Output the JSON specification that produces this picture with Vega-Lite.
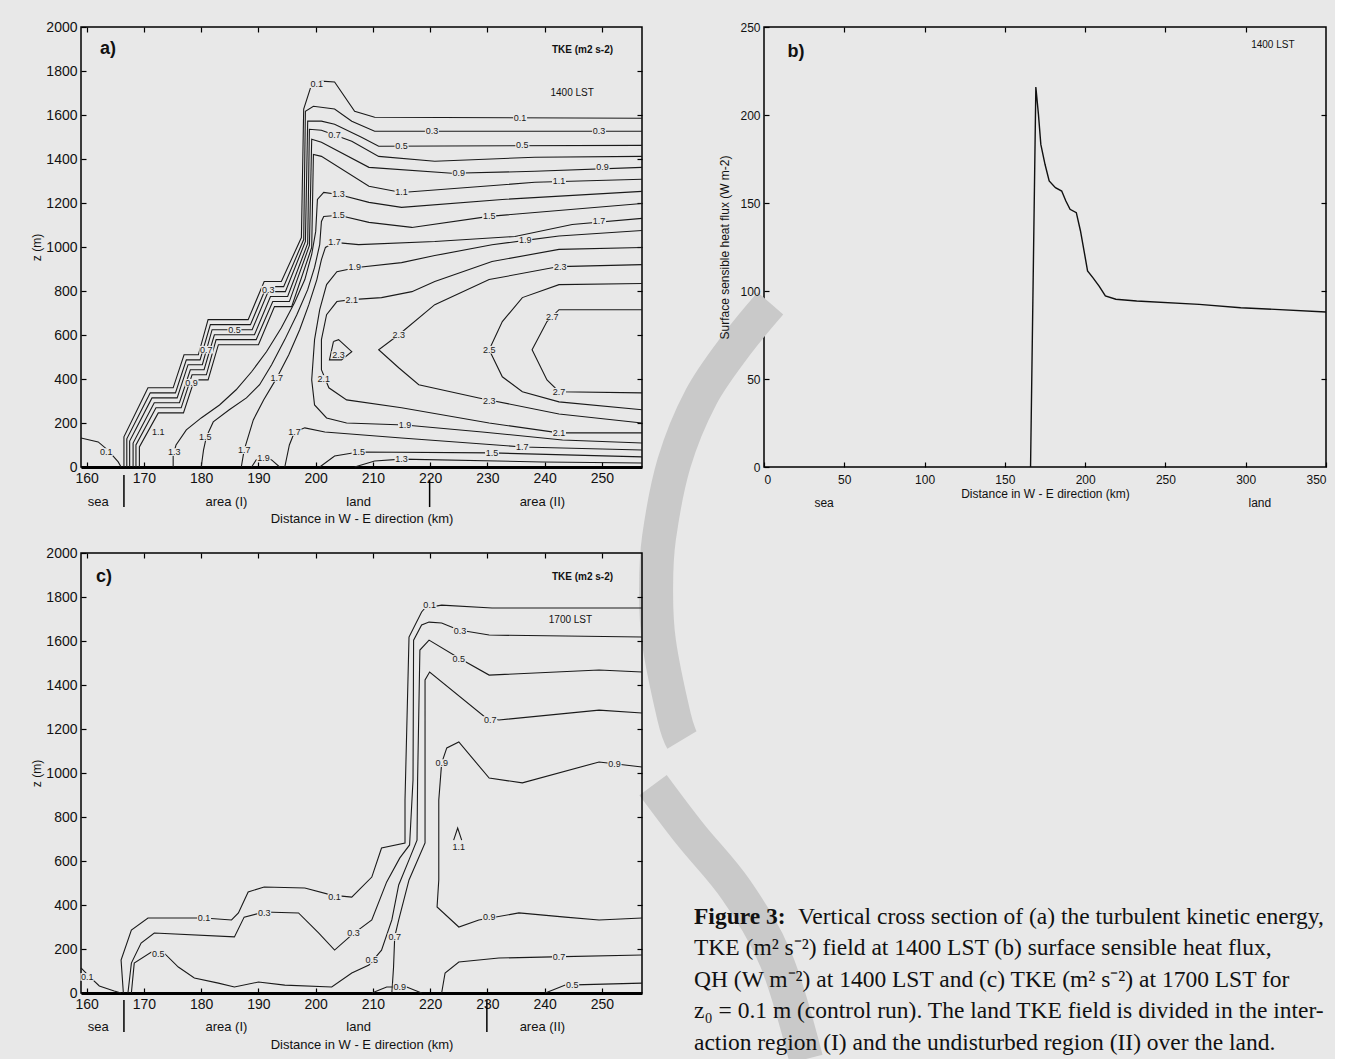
{
"$schema": "https://vega.github.io/schema/vega-lite/v6.json",
"background": "#e8e8e8",
"padding": {"left": 30, "top": 19, "right": 5, "bottom": 0},
"config": {
 "view": {"stroke": "#000", "strokeWidth": 1.5},
 "font": "Liberation Sans",
 "axis": {"grid": false, "domain": false, "ticks": true, "tickColor": "#000", "tickSize": -5, "tickWidth": 1.2, "labelColor": "#111", "labelFont": "Liberation Sans", "titleFont": "Liberation Sans", "titleColor": "#111", "titleFontWeight": "normal", "labelFontSize": 14, "titleFontSize": 13, "labelPadding": 9}
},
"datasets": {
 "la": [
  {"i":"s0","k":0,"x":166.5,"z":0},{"i":"s0","k":1,"x":166.5,"z":137},{"i":"s0","k":2,"x":170.7,"z":360},{"i":"s0","k":3,"x":175.1,"z":360},{"i":"s0","k":4,"x":177.0,"z":510},{"i":"s0","k":5,"x":179.5,"z":510},{"i":"s0","k":6,"x":181.2,"z":670},{"i":"s0","k":7,"x":188.2,"z":670},{"i":"s0","k":8,"x":191.0,"z":843},{"i":"s0","k":9,"x":194.0,"z":843},{"i":"s0","k":10,"x":197.5,"z":1043},{"i":"s0","k":11,"x":197.9,"z":1627},{"i":"s0","k":12,"x":199.3,"z":1740},{"i":"s0","k":13,"x":201.0,"z":1754},{"i":"s0","k":14,"x":203.3,"z":1750},{"i":"s0","k":15,"x":206.8,"z":1617},{"i":"s0","k":16,"x":210.3,"z":1590},{"i":"s0","k":17,"x":257,"z":1585},
  {"i":"s1","k":0,"x":167.0,"z":0},{"i":"s1","k":1,"x":167.0,"z":128},{"i":"s1","k":2,"x":171.1,"z":337},{"i":"s1","k":3,"x":175.5,"z":337},{"i":"s1","k":4,"x":177.4,"z":487},{"i":"s1","k":5,"x":179.8,"z":487},{"i":"s1","k":6,"x":181.6,"z":647},{"i":"s1","k":7,"x":188.6,"z":647},{"i":"s1","k":8,"x":191.4,"z":820},{"i":"s1","k":9,"x":194.4,"z":820},{"i":"s1","k":10,"x":197.9,"z":1034},{"i":"s1","k":11,"x":198.2,"z":1617},{"i":"s1","k":12,"x":199.6,"z":1640},{"i":"s1","k":13,"x":203.3,"z":1627},{"i":"s1","k":14,"x":206.3,"z":1572},{"i":"s1","k":15,"x":210.3,"z":1526},{"i":"s1","k":16,"x":257,"z":1526},
  {"i":"s2","k":0,"x":167.5,"z":0},{"i":"s2","k":1,"x":167.5,"z":118},{"i":"s2","k":2,"x":171.4,"z":314},{"i":"s2","k":3,"x":175.8,"z":314},{"i":"s2","k":4,"x":177.7,"z":465},{"i":"s2","k":5,"x":180.2,"z":465},{"i":"s2","k":6,"x":181.9,"z":624},{"i":"s2","k":7,"x":188.9,"z":624},{"i":"s2","k":8,"x":191.7,"z":797},{"i":"s2","k":9,"x":194.7,"z":797},{"i":"s2","k":10,"x":198.2,"z":1025},{"i":"s2","k":11,"x":198.6,"z":1572},{"i":"s2","k":12,"x":201.0,"z":1572},{"i":"s2","k":13,"x":203.3,"z":1558},{"i":"s2","k":14,"x":208.0,"z":1499},{"i":"s2","k":15,"x":211.0,"z":1458},{"i":"s2","k":16,"x":257,"z":1462},
  {"i":"s3","k":0,"x":168.1,"z":0},{"i":"s3","k":1,"x":168.1,"z":109},{"i":"s3","k":2,"x":171.8,"z":292},{"i":"s3","k":3,"x":176.2,"z":292},{"i":"s3","k":4,"x":178.1,"z":442},{"i":"s3","k":5,"x":180.5,"z":442},{"i":"s3","k":6,"x":182.3,"z":601},{"i":"s3","k":7,"x":189.3,"z":601},{"i":"s3","k":8,"x":192.1,"z":775},{"i":"s3","k":9,"x":195.1,"z":775},{"i":"s3","k":10,"x":198.6,"z":1016},{"i":"s3","k":11,"x":198.9,"z":1535},{"i":"s3","k":12,"x":201.0,"z":1531},{"i":"s3","k":13,"x":206.3,"z":1481},{"i":"s3","k":14,"x":211.0,"z":1412},{"i":"s3","k":15,"x":220.8,"z":1390},{"i":"s3","k":16,"x":238.3,"z":1408},{"i":"s3","k":17,"x":257,"z":1412},
  {"i":"s4","k":0,"x":168.6,"z":0},{"i":"s4","k":1,"x":168.6,"z":100},{"i":"s4","k":2,"x":172.1,"z":269},{"i":"s4","k":3,"x":176.5,"z":269},{"i":"s4","k":4,"x":178.4,"z":419},{"i":"s4","k":5,"x":180.9,"z":419},{"i":"s4","k":6,"x":182.6,"z":579},{"i":"s4","k":7,"x":189.6,"z":579},{"i":"s4","k":8,"x":192.5,"z":752},{"i":"s4","k":9,"x":195.4,"z":752},{"i":"s4","k":10,"x":198.9,"z":1007},{"i":"s4","k":11,"x":199.3,"z":1490},{"i":"s4","k":12,"x":201.0,"z":1476},{"i":"s4","k":13,"x":209.3,"z":1362},{"i":"s4","k":14,"x":223.8,"z":1335},{"i":"s4","k":15,"x":238.3,"z":1344},{"i":"s4","k":16,"x":257,"z":1362},
  {"i":"s5","k":0,"x":169.2,"z":0},{"i":"s5","k":1,"x":169.2,"z":91},{"i":"s5","k":2,"x":172.5,"z":246},{"i":"s5","k":3,"x":176.9,"z":246},{"i":"s5","k":4,"x":178.8,"z":396},{"i":"s5","k":5,"x":181.2,"z":396},{"i":"s5","k":6,"x":183.0,"z":556},{"i":"s5","k":7,"x":190.0,"z":556},{"i":"s5","k":8,"x":192.8,"z":729},{"i":"s5","k":9,"x":195.8,"z":729},{"i":"s5","k":10,"x":199.3,"z":998},{"i":"s5","k":11,"x":199.6,"z":1421},{"i":"s5","k":12,"x":201.0,"z":1412},{"i":"s5","k":13,"x":209.3,"z":1276},{"i":"s5","k":14,"x":215.0,"z":1248},{"i":"s5","k":15,"x":238.3,"z":1294},{"i":"s5","k":16,"x":257,"z":1308},
  {"i":"m1","k":0,"x":175.1,"z":0},{"i":"m1","k":1,"x":175.1,"z":55},{"i":"m1","k":2,"x":175.6,"z":100},{"i":"m1","k":3,"x":177.4,"z":169},{"i":"m1","k":4,"x":180.0,"z":223},{"i":"m1","k":5,"x":183.2,"z":282},{"i":"m1","k":6,"x":186.1,"z":351},{"i":"m1","k":7,"x":188.8,"z":433},{"i":"m1","k":8,"x":191.4,"z":524},{"i":"m1","k":9,"x":194.0,"z":633},{"i":"m1","k":10,"x":196.3,"z":747},{"i":"m1","k":11,"x":198.1,"z":852},{"i":"m1","k":12,"x":199.3,"z":966},{"i":"m1","k":13,"x":200.0,"z":1071},{"i":"m1","k":14,"x":200.3,"z":1216},{"i":"m1","k":15,"x":201.4,"z":1248},{"i":"m1","k":16,"x":204.0,"z":1239},{"i":"m1","k":17,"x":209.3,"z":1203},{"i":"m1","k":18,"x":215.0,"z":1180},{"i":"m1","k":19,"x":232.6,"z":1216},{"i":"m1","k":20,"x":257,"z":1253},
  {"i":"m2","k":0,"x":180.0,"z":0},{"i":"m2","k":1,"x":180.4,"z":77},{"i":"m2","k":2,"x":180.9,"z":137},{"i":"m2","k":3,"x":182.1,"z":205},{"i":"m2","k":4,"x":184.9,"z":260},{"i":"m2","k":5,"x":187.9,"z":314},{"i":"m2","k":6,"x":190.2,"z":374},{"i":"m2","k":7,"x":192.3,"z":465},{"i":"m2","k":8,"x":194.6,"z":579},{"i":"m2","k":9,"x":196.7,"z":692},{"i":"m2","k":10,"x":198.6,"z":806},{"i":"m2","k":11,"x":199.8,"z":907},{"i":"m2","k":12,"x":200.7,"z":1011},{"i":"m2","k":13,"x":201.0,"z":1116},{"i":"m2","k":14,"x":201.4,"z":1139},{"i":"m2","k":15,"x":204.0,"z":1144},{"i":"m2","k":16,"x":209.3,"z":1112},{"i":"m2","k":17,"x":216.8,"z":1089},{"i":"m2","k":18,"x":230.3,"z":1139},{"i":"m2","k":19,"x":257,"z":1198},
  {"i":"m3","k":0,"x":187.0,"z":0},{"i":"m3","k":1,"x":187.5,"z":77},{"i":"m3","k":2,"x":189.1,"z":214},{"i":"m3","k":3,"x":190.9,"z":305},{"i":"m3","k":4,"x":193.2,"z":405},{"i":"m3","k":5,"x":195.3,"z":510},{"i":"m3","k":6,"x":197.2,"z":624},{"i":"m3","k":7,"x":198.8,"z":738},{"i":"m3","k":8,"x":200.2,"z":852},{"i":"m3","k":9,"x":201.0,"z":943},{"i":"m3","k":10,"x":201.7,"z":998},{"i":"m3","k":11,"x":203.3,"z":1021},{"i":"m3","k":12,"x":207.5,"z":1011},{"i":"m3","k":13,"x":220.8,"z":1025},{"i":"m3","k":14,"x":234.8,"z":1048},{"i":"m3","k":15,"x":244.8,"z":1102},{"i":"m3","k":16,"x":257,"z":1130},
  {"i":"c19","k":0,"x":257,"z":1075},{"i":"c19","k":1,"x":242.5,"z":1050},{"i":"c19","k":2,"x":236.6,"z":1030},{"i":"c19","k":3,"x":230.8,"z":1010},{"i":"c19","k":4,"x":220.8,"z":961},{"i":"c19","k":5,"x":215.0,"z":929},{"i":"c19","k":6,"x":207.2,"z":907},{"i":"c19","k":7,"x":203.7,"z":888},{"i":"c19","k":8,"x":201.9,"z":829},{"i":"c19","k":9,"x":200.7,"z":715},{"i":"c19","k":10,"x":199.8,"z":579},{"i":"c19","k":11,"x":199.3,"z":396},{"i":"c19","k":12,"x":199.8,"z":282},{"i":"c19","k":13,"x":201.9,"z":223},{"i":"c19","k":14,"x":205.4,"z":200},{"i":"c19","k":15,"x":215.6,"z":191},{"i":"c19","k":16,"x":229.1,"z":159},{"i":"c19","k":17,"x":243.1,"z":123},{"i":"c19","k":18,"x":257,"z":109},
  {"i":"c21","k":0,"x":257,"z":998},{"i":"c21","k":1,"x":242.5,"z":989},{"i":"c21","k":2,"x":230.8,"z":934},{"i":"c21","k":3,"x":220.8,"z":843},{"i":"c21","k":4,"x":216.8,"z":797},{"i":"c21","k":5,"x":211.5,"z":770},{"i":"c21","k":6,"x":206.3,"z":761},{"i":"c21","k":7,"x":203.7,"z":752},{"i":"c21","k":8,"x":201.9,"z":692},{"i":"c21","k":9,"x":201.0,"z":579},{"i":"c21","k":10,"x":201.0,"z":442},{"i":"c21","k":11,"x":202.3,"z":360},{"i":"c21","k":12,"x":205.4,"z":305},{"i":"c21","k":13,"x":215.0,"z":269},{"i":"c21","k":14,"x":230.3,"z":200},{"i":"c21","k":15,"x":242.5,"z":155},{"i":"c21","k":16,"x":257,"z":155},
  {"i":"c23","k":0,"x":257,"z":920},{"i":"c23","k":1,"x":242.5,"z":911},{"i":"c23","k":2,"x":230.3,"z":852},{"i":"c23","k":3,"x":220.8,"z":738},{"i":"c23","k":4,"x":214.5,"z":601},{"i":"c23","k":5,"x":211.0,"z":533},{"i":"c23","k":6,"x":214.5,"z":451},{"i":"c23","k":7,"x":218.0,"z":374},{"i":"c23","k":8,"x":228.5,"z":314},{"i":"c23","k":9,"x":242.5,"z":241},{"i":"c23","k":10,"x":257,"z":200},
  {"i":"c25","k":0,"x":257,"z":834},{"i":"c25","k":1,"x":242.5,"z":829},{"i":"c25","k":2,"x":236.1,"z":770},{"i":"c25","k":3,"x":232.6,"z":661},{"i":"c25","k":4,"x":230.3,"z":533},{"i":"c25","k":5,"x":232.6,"z":410},{"i":"c25","k":6,"x":236.1,"z":342},{"i":"c25","k":7,"x":242.5,"z":296},{"i":"c25","k":8,"x":257,"z":260},
  {"i":"c27","k":0,"x":257,"z":715},{"i":"c27","k":1,"x":242.5,"z":715},{"i":"c27","k":2,"x":240.4,"z":661},{"i":"c27","k":3,"x":237.8,"z":533},{"i":"c27","k":4,"x":240.4,"z":396},{"i":"c27","k":5,"x":242.5,"z":342},{"i":"c27","k":6,"x":257,"z":337},
  {"i":"l17","k":0,"x":194.6,"z":0},{"i":"l17","k":1,"x":195.4,"z":100},{"i":"l17","k":2,"x":196.3,"z":159},{"i":"l17","k":3,"x":198.1,"z":178},{"i":"l17","k":4,"x":201.6,"z":159},{"i":"l17","k":5,"x":215.0,"z":132},{"i":"l17","k":6,"x":236.1,"z":91},{"i":"l17","k":7,"x":257,"z":77},
  {"i":"l15","k":0,"x":200.7,"z":0},{"i":"l15","k":1,"x":203.3,"z":50},{"i":"l15","k":2,"x":207.5,"z":68},{"i":"l15","k":3,"x":230.8,"z":64},{"i":"l15","k":4,"x":257,"z":46},
  {"i":"l13","k":0,"x":206.8,"z":0},{"i":"l13","k":1,"x":210.3,"z":27},{"i":"l13","k":2,"x":215.0,"z":36},{"i":"l13","k":3,"x":239.6,"z":23},{"i":"l13","k":4,"x":257,"z":18},
  {"i":"b19","k":0,"x":188.8,"z":0},{"i":"b19","k":1,"x":189.6,"z":32},{"i":"b19","k":2,"x":190.9,"z":46},{"i":"b19","k":3,"x":192.3,"z":32},{"i":"b19","k":4,"x":193.7,"z":0},
  {"i":"sea","k":0,"x":159.0,"z":132},{"i":"sea","k":1,"x":162.0,"z":114},{"i":"sea","k":2,"x":163.7,"z":77},{"i":"sea","k":3,"x":165.5,"z":23},{"i":"sea","k":4,"x":166.0,"z":0},
  {"i":"isl","k":0,"x":203.1,"z":570},{"i":"isl","k":1,"x":204.0,"z":579},{"i":"isl","k":2,"x":206.3,"z":524},{"i":"isl","k":3,"x":204.5,"z":487},{"i":"isl","k":4,"x":202.4,"z":487},{"i":"isl","k":5,"x":203.1,"z":570}
 ],
 "ta": [
  {"t":"0.1","x":200.2,"z":1740},{"t":"0.1","x":235.7,"z":1585},{"t":"0.1","x":163.4,"z":68},
  {"t":"0.3","x":220.3,"z":1526},{"t":"0.3","x":249.5,"z":1526},{"t":"0.3","x":191.7,"z":806},
  {"t":"0.5","x":215.0,"z":1458},{"t":"0.5","x":236.1,"z":1462},{"t":"0.5","x":185.8,"z":624},
  {"t":"0.7","x":203.3,"z":1509},{"t":"0.7","x":180.9,"z":533},
  {"t":"0.9","x":225.0,"z":1335},{"t":"0.9","x":250.1,"z":1362},{"t":"0.9","x":178.3,"z":383},
  {"t":"1.1","x":215.0,"z":1248},{"t":"1.1","x":242.5,"z":1298},{"t":"1.1","x":172.5,"z":159},
  {"t":"1.3","x":204.0,"z":1239},{"t":"1.3","x":175.3,"z":68},{"t":"1.3","x":215.0,"z":36},
  {"t":"1.5","x":204.0,"z":1144},{"t":"1.5","x":230.3,"z":1139},{"t":"1.5","x":180.7,"z":137},{"t":"1.5","x":207.5,"z":68},{"t":"1.5","x":230.8,"z":64},
  {"t":"1.7","x":203.3,"z":1021},{"t":"1.7","x":249.5,"z":1116},{"t":"1.7","x":193.2,"z":405},{"t":"1.7","x":187.5,"z":77},{"t":"1.7","x":196.3,"z":159},{"t":"1.7","x":236.1,"z":91},
  {"t":"1.9","x":206.8,"z":907},{"t":"1.9","x":236.6,"z":1030},{"t":"1.9","x":215.6,"z":191},{"t":"1.9","x":190.9,"z":41},
  {"t":"2.1","x":206.3,"z":761},{"t":"2.1","x":242.5,"z":155},{"t":"2.1","x":201.4,"z":400},
  {"t":"2.3","x":242.7,"z":911},{"t":"2.3","x":204.0,"z":510},{"t":"2.3","x":230.3,"z":300},{"t":"2.3","x":214.5,"z":601},
  {"t":"2.5","x":230.3,"z":533},
  {"t":"2.7","x":241.3,"z":683},{"t":"2.7","x":242.5,"z":342}
 ],
 "lc": [
  {"i":"c01","k":0,"x":166.4,"z":0},{"i":"c01","k":1,"x":166.0,"z":150},{"i":"c01","k":2,"x":167.8,"z":286},{"i":"c01","k":3,"x":170.7,"z":341},{"i":"c01","k":4,"x":180.5,"z":341},{"i":"c01","k":5,"x":185.3,"z":332},{"i":"c01","k":6,"x":186.5,"z":364},{"i":"c01","k":7,"x":188.2,"z":459},{"i":"c01","k":8,"x":191.0,"z":482},{"i":"c01","k":9,"x":198.1,"z":477},{"i":"c01","k":10,"x":202.8,"z":445},{"i":"c01","k":11,"x":206.3,"z":436},{"i":"c01","k":12,"x":209.8,"z":527},{"i":"c01","k":13,"x":211.5,"z":659},{"i":"c01","k":14,"x":215.6,"z":682},{"i":"c01","k":15,"x":215.6,"z":877},{"i":"c01","k":16,"x":216.3,"z":1618},{"i":"c01","k":17,"x":218.5,"z":1732},{"i":"c01","k":18,"x":219.1,"z":1750},{"i":"c01","k":19,"x":222.0,"z":1763},{"i":"c01","k":20,"x":230.8,"z":1750},{"i":"c01","k":21,"x":257,"z":1750},
  {"i":"c03","k":0,"x":167.2,"z":0},{"i":"c03","k":1,"x":167.8,"z":136},{"i":"c03","k":2,"x":169.5,"z":227},{"i":"c03","k":3,"x":171.8,"z":273},{"i":"c03","k":4,"x":185.8,"z":255},{"i":"c03","k":5,"x":187.5,"z":345},{"i":"c03","k":6,"x":191.0,"z":368},{"i":"c03","k":7,"x":197.0,"z":364},{"i":"c03","k":8,"x":200.5,"z":273},{"i":"c03","k":9,"x":203.3,"z":195},{"i":"c03","k":10,"x":206.3,"z":264},{"i":"c03","k":11,"x":209.8,"z":332},{"i":"c03","k":12,"x":212.4,"z":505},{"i":"c03","k":13,"x":214.7,"z":614},{"i":"c03","k":14,"x":216.4,"z":673},{"i":"c03","k":15,"x":217.0,"z":968},{"i":"c03","k":16,"x":217.1,"z":1604},{"i":"c03","k":17,"x":218.5,"z":1673},{"i":"c03","k":18,"x":219.8,"z":1686},{"i":"c03","k":19,"x":222.0,"z":1682},{"i":"c03","k":20,"x":225.0,"z":1650},{"i":"c03","k":21,"x":230.3,"z":1627},{"i":"c03","k":22,"x":257,"z":1618},
  {"i":"c05","k":0,"x":167.8,"z":0},{"i":"c05","k":1,"x":168.3,"z":136},{"i":"c05","k":2,"x":171.3,"z":186},{"i":"c05","k":3,"x":173.5,"z":182},{"i":"c05","k":4,"x":176.0,"z":118},{"i":"c05","k":5,"x":178.8,"z":68},{"i":"c05","k":6,"x":183.0,"z":45},{"i":"c05","k":7,"x":185.8,"z":27},{"i":"c05","k":8,"x":190.0,"z":50},{"i":"c05","k":9,"x":194.6,"z":36},{"i":"c05","k":10,"x":202.8,"z":27},{"i":"c05","k":11,"x":206.3,"z":91},{"i":"c05","k":12,"x":209.3,"z":127},{"i":"c05","k":13,"x":211.5,"z":195},{"i":"c05","k":14,"x":213.3,"z":332},{"i":"c05","k":15,"x":214.5,"z":491},{"i":"c05","k":16,"x":216.3,"z":605},{"i":"c05","k":17,"x":217.7,"z":695},{"i":"c05","k":18,"x":217.8,"z":968},{"i":"c05","k":19,"x":218.2,"z":1559},{"i":"c05","k":20,"x":219.8,"z":1604},{"i":"c05","k":21,"x":225.0,"z":1523},{"i":"c05","k":22,"x":230.3,"z":1445},{"i":"c05","k":23,"x":249.5,"z":1468},{"i":"c05","k":24,"x":257,"z":1459},
  {"i":"c07","k":0,"x":257,"z":1273},{"i":"c07","k":1,"x":249.5,"z":1286},{"i":"c07","k":2,"x":232.0,"z":1241},{"i":"c07","k":3,"x":229.6,"z":1254},{"i":"c07","k":4,"x":219.9,"z":1459},{"i":"c07","k":5,"x":219.1,"z":1423},{"i":"c07","k":6,"x":219.1,"z":682},{"i":"c07","k":7,"x":216.3,"z":514},{"i":"c07","k":8,"x":214.5,"z":332},{"i":"c07","k":9,"x":213.8,"z":255},{"i":"c07","k":10,"x":213.6,"z":118},{"i":"c07","k":11,"x":213.3,"z":0},
  {"i":"c09","k":0,"x":257,"z":1027},{"i":"c09","k":1,"x":249.5,"z":1050},{"i":"c09","k":2,"x":236.1,"z":955},{"i":"c09","k":3,"x":230.3,"z":977},{"i":"c09","k":4,"x":225.0,"z":1141},{"i":"c09","k":5,"x":222.9,"z":1114},{"i":"c09","k":6,"x":222.0,"z":1045},{"i":"c09","k":7,"x":221.5,"z":877},{"i":"c09","k":8,"x":221.5,"z":514},{"i":"c09","k":9,"x":221.2,"z":391},{"i":"c09","k":10,"x":225.0,"z":300},{"i":"c09","k":11,"x":228.5,"z":332},{"i":"c09","k":12,"x":235.5,"z":364},{"i":"c09","k":13,"x":243.6,"z":345},{"i":"c09","k":14,"x":249.5,"z":332},{"i":"c09","k":15,"x":257,"z":341},
  {"i":"c07b","k":0,"x":222.0,"z":0},{"i":"c07b","k":1,"x":222.6,"z":91},{"i":"c07b","k":2,"x":225.0,"z":141},{"i":"c07b","k":3,"x":232.0,"z":159},{"i":"c07b","k":4,"x":241.3,"z":164},{"i":"c07b","k":5,"x":257,"z":173},
  {"i":"c05b","k":0,"x":240.1,"z":0},{"i":"c05b","k":1,"x":243.6,"z":36},{"i":"c05b","k":2,"x":257,"z":45},
  {"i":"c11","k":0,"x":224.1,"z":695},{"i":"c11","k":1,"x":224.8,"z":750},{"i":"c11","k":2,"x":225.5,"z":695},
  {"i":"cs","k":0,"x":159.0,"z":114},{"i":"cs","k":1,"x":160.4,"z":77},{"i":"cs","k":2,"x":162.2,"z":32},{"i":"cs","k":3,"x":164.8,"z":9},{"i":"cs","k":4,"x":166.0,"z":0},
  {"i":"cg","k":0,"x":209.8,"z":0},{"i":"cg","k":1,"x":212.4,"z":27},{"i":"cg","k":2,"x":215.9,"z":27},{"i":"cg","k":3,"x":218.5,"z":0}
 ],
 "tc": [
  {"t":"0.1","x":219.9,"z":1763},{"t":"0.3","x":225.2,"z":1645},{"t":"0.5","x":225.0,"z":1518},{"t":"0.7","x":230.5,"z":1241},{"t":"0.9","x":252.2,"z":1041},{"t":"0.9","x":222.0,"z":1045},{"t":"1.1","x":225.0,"z":665},{"t":"0.9","x":230.3,"z":345},{"t":"0.7","x":242.5,"z":164},{"t":"0.5","x":244.8,"z":36},{"t":"0.1","x":203.3,"z":436},{"t":"0.1","x":180.5,"z":341},{"t":"0.3","x":191.0,"z":364},{"t":"0.5","x":172.5,"z":178},{"t":"0.3","x":206.6,"z":273},{"t":"0.5","x":209.8,"z":150},{"t":"0.7","x":213.8,"z":255},{"t":"0.9","x":214.7,"z":27},{"t":"0.1","x":160.1,"z":73}
 ],
 "lb": [
  {"k":0,"x":166.0,"y":0},{"k":1,"x":169.3,"y":215.9},{"k":2,"x":170.9,"y":200.5},{"k":3,"x":172.4,"y":183.3},{"k":4,"x":175.0,"y":172},{"k":5,"x":177.6,"y":162.5},{"k":6,"x":181.5,"y":158.7},{"k":7,"x":185.4,"y":156.8},{"k":8,"x":188.0,"y":151.1},{"k":9,"x":190.6,"y":146.4},{"k":10,"x":194.5,"y":144.5},{"k":11,"x":197.1,"y":134.1},{"k":12,"x":199.7,"y":120.8},{"k":13,"x":201.5,"y":111.4},{"k":14,"x":204.8,"y":107.6},{"k":15,"x":208.7,"y":102.8},{"k":16,"x":212.6,"y":97.2},{"k":17,"x":219.1,"y":95.3},{"k":18,"x":232.1,"y":94.3},{"k":19,"x":271.0,"y":92.4},{"k":20,"x":296.9,"y":90.5},{"k":21,"x":350,"y":88.1}
 ],
 "wm": [
  {"g":"A","k":0,"x":4.0,"y":93.0},{"g":"A","k":1,"x":-16.8,"y":69.9},{"g":"A","k":2,"x":-39.2,"y":39.8},{"g":"A","k":3,"x":-56.0,"y":2.3},{"g":"A","k":4,"x":-65.4,"y":-40.3},{"g":"A","k":5,"x":-67.2,"y":-69.9},{"g":"A","k":6,"x":-65.4,"y":-99.4},{"g":"A","k":7,"x":-56.0,"y":-142.0},{"g":"A","k":8,"x":-51.1,"y":-155.1},
  {"g":"C","k":0,"x":-69.1,"y":-180.7},{"g":"C","k":1,"x":-45.5,"y":-209.1},{"g":"C","k":2,"x":-17.4,"y":-240.3},{"g":"C","k":3,"x":7.5,"y":-280.1},{"g":"C","k":4,"x":26.2,"y":-336.4}
 ],
 "cap": [
  {"line":1,"part":"bold","t":"Figure 3:"},
  {"line":1,"part":"rest","t":"Vertical cross section of (a) the turbulent kinetic energy,"},
  {"line":2,"part":"body","t":"TKE (m² s⁻²) field at 1400 LST (b) surface sensible heat flux,"},
  {"line":3,"part":"body","t":"QH (W m⁻²) at 1400 LST and (c) TKE (m² s⁻²) at 1700 LST for"},
  {"line":4,"part":"body","t":"z₀ = 0.1 m (control run). The land TKE field is divided in the inter-"},
  {"line":5,"part":"body","t":"action region (I) and the undisturbed region (II) over the land."}
 ]
},
"columns": 2,
"spacing": {"row": 86, "column": 122},
"bounds": "flush",
"concat": [
  {
   "width": 561, "height": 440,
   "layer": [
    {"data": {"name": "la"}, "mark": {"type": "line", "stroke": "#1a1a1a", "strokeWidth": 1.1},
     "encoding": {
      "x": {"field": "x", "type": "quantitative", "scale": {"domain": [159, 257], "nice": false, "zero": false},
            "axis": {"orient": "bottom", "values": [160,170,180,190,200,210,220,230,240,250], "title": "Distance in W - E direction (km)", "titlePadding": 27, "domain": true, "domainWidth": 3, "domainColor": "#000"}},
      "y": {"field": "z", "type": "quantitative", "scale": {"domain": [0, 2000], "nice": false, "zero": false},
            "axis": {"orient": "left", "values": [0,200,400,600,800,1000,1200,1400,1600,1800,2000], "format": "d", "title": "z (m)", "titleFontSize": 12, "titlePadding": 2}},
      "detail": {"field": "i"},
      "order": {"field": "k"}
     }},
    {"data": {"name": "ta"}, "mark": {"type": "point", "shape": "M-1,-0.55L1,-0.55L1,0.55L-1,0.55Z", "size": 196, "filled": true, "fill": "#e8e8e8", "strokeWidth": 0, "opacity": 1},
     "encoding": {
      "x": {"field": "x", "type": "quantitative", "axis": {"orient": "top", "values": [160,170,180,190,200,210,220,230,240,250], "labels": false, "title": null}},
      "y": {"field": "z", "type": "quantitative", "axis": {"orient": "right", "values": [200,400,600,800,1000,1200,1400,1600,1800], "labels": false, "title": null}}
     }},
    {"data": {"name": "ta"}, "mark": {"type": "text", "fontSize": 9, "color": "#1a1a1a", "align": "center", "baseline": "middle"},
     "encoding": {
      "x": {"field": "x", "type": "quantitative", "axis": null},
      "y": {"field": "z", "type": "quantitative", "axis": null},
      "text": {"field": "t"}
     }},
    {"data": {"values": [{"t": "a)", "x": 163.7, "z": 1900}]}, "mark": {"type": "text", "fontSize": 18, "fontWeight": "bold", "color": "#111", "align": "center", "baseline": "middle"},
     "encoding": {"x": {"field": "x", "type": "quantitative", "axis": null}, "y": {"field": "z", "type": "quantitative", "axis": null}, "text": {"field": "t"}}},
    {"data": {"values": [{"t": "TKE (m2 s-2)", "x": 246.6, "z": 1895}]}, "mark": {"type": "text", "fontSize": 10, "fontWeight": "bold", "color": "#111", "align": "center", "baseline": "middle"},
     "encoding": {"x": {"field": "x", "type": "quantitative", "axis": null}, "y": {"field": "z", "type": "quantitative", "axis": null}, "text": {"field": "t"}}},
    {"data": {"values": [{"t": "1400 LST", "x": 244.8, "z": 1699}]}, "mark": {"type": "text", "fontSize": 10, "color": "#111", "align": "center", "baseline": "middle"},
     "encoding": {"x": {"field": "x", "type": "quantitative", "axis": null}, "y": {"field": "z", "type": "quantitative", "axis": null}, "text": {"field": "t"}}},
    {"data": {"values": [{"t": "sea", "x": 162.0, "z": -159}, {"t": "area (I)", "x": 184.4, "z": -159}, {"t": "land", "x": 207.5, "z": -159}, {"t": "area (II)", "x": 239.6, "z": -159}]},
     "mark": {"type": "text", "fontSize": 13, "color": "#111", "align": "center", "baseline": "middle"},
     "encoding": {"x": {"field": "x", "type": "quantitative", "axis": null}, "y": {"field": "z", "type": "quantitative", "axis": null}, "text": {"field": "t"}}},
    {"data": {"values": [{"x": 166.5, "z": -36, "z2": -182}, {"x": 219.9, "z": -59, "z2": -182}]},
     "mark": {"type": "rule", "color": "#000", "strokeWidth": 1.5},
     "encoding": {"x": {"field": "x", "type": "quantitative", "axis": null}, "y": {"field": "z", "type": "quantitative", "axis": null}, "y2": {"field": "z2"}}}
   ]
  },
  {
   "width": 562, "height": 440,
   "layer": [
    {"data": {"name": "wm"}, "mark": {"type": "line", "stroke": "#c9c9c9", "strokeWidth": 34, "strokeCap": "butt", "interpolate": "cardinal"},
     "encoding": {
      "x": {"field": "x", "type": "quantitative", "axis": null},
      "y": {"field": "y", "type": "quantitative", "axis": null},
      "detail": {"field": "g"},
      "order": {"field": "k"}
     }},
    {"data": {"name": "lb"}, "mark": {"type": "line", "stroke": "#111", "strokeWidth": 1.4},
     "encoding": {
      "x": {"field": "x", "type": "quantitative", "scale": {"domain": [0, 350], "nice": false, "zero": false},
            "axis": {"orient": "bottom", "zindex": 1, "values": [0,50,100,150,200,250,300,350], "title": "Distance in W - E direction (km)", "titlePadding": 3, "labelPadding": 12, "labelFontSize": 12, "titleFontSize": 12}},
      "y": {"field": "y", "type": "quantitative", "scale": {"domain": [0, 250], "nice": false, "zero": false},
            "axis": {"orient": "left", "zindex": 1, "values": [0,50,100,150,200,250], "title": "Surface sensible heat flux (W m-2)", "titleFontSize": 12, "labelFontSize": 12, "titlePadding": 8}},
      "order": {"field": "k"}
     }},
    {"data": {"values": [{"t": "b)", "x": 19.9, "y": 235.8}]}, "mark": {"type": "text", "fontSize": 18, "fontWeight": "bold", "color": "#111", "align": "center", "baseline": "middle"},
     "encoding": {"x": {"field": "x", "type": "quantitative", "axis": {"orient": "top", "zindex": 1, "values": [50,100,150,200,250,300], "labels": false, "title": null}}, "y": {"field": "y", "type": "quantitative", "axis": {"orient": "right", "zindex": 1, "values": [50,100,150,200], "labels": false, "title": null}}, "text": {"field": "t"}}},
    {"data": {"values": [{"t": "1400 LST", "x": 316.9, "y": 239.8}]}, "mark": {"type": "text", "fontSize": 10, "color": "#111", "align": "center", "baseline": "middle"},
     "encoding": {"x": {"field": "x", "type": "quantitative", "axis": null}, "y": {"field": "y", "type": "quantitative", "axis": null}, "text": {"field": "t"}}},
    {"data": {"values": [{"t": "sea", "x": 37.4, "y": -20.5}, {"t": "land", "x": 308.8, "y": -20.5}]}, "mark": {"type": "text", "fontSize": 12, "color": "#111", "align": "center", "baseline": "middle"},
     "encoding": {"x": {"field": "x", "type": "quantitative", "axis": null}, "y": {"field": "y", "type": "quantitative", "axis": null}, "text": {"field": "t"}}}
   ]
  },
  {
   "width": 561, "height": 440,
   "layer": [
    {"data": {"name": "lc"}, "mark": {"type": "line", "stroke": "#1a1a1a", "strokeWidth": 1.1},
     "encoding": {
      "x": {"field": "x", "type": "quantitative", "scale": {"domain": [159, 257], "nice": false, "zero": false},
            "axis": {"orient": "bottom", "values": [160,170,180,190,200,210,220,230,240,250], "title": "Distance in W - E direction (km)", "titlePadding": 27, "domain": true, "domainWidth": 3, "domainColor": "#000"}},
      "y": {"field": "z", "type": "quantitative", "scale": {"domain": [0, 2000], "nice": false, "zero": false},
            "axis": {"orient": "left", "values": [0,200,400,600,800,1000,1200,1400,1600,1800,2000], "format": "d", "title": "z (m)", "titleFontSize": 12, "titlePadding": 2}},
      "detail": {"field": "i"},
      "order": {"field": "k"}
     }},
    {"data": {"name": "tc"}, "mark": {"type": "point", "shape": "M-1,-0.55L1,-0.55L1,0.55L-1,0.55Z", "size": 196, "filled": true, "fill": "#e8e8e8", "strokeWidth": 0, "opacity": 1},
     "encoding": {
      "x": {"field": "x", "type": "quantitative", "axis": {"orient": "top", "values": [160,170,180,190,200,210,220,230,240,250], "labels": false, "title": null}},
      "y": {"field": "z", "type": "quantitative", "axis": {"orient": "right", "values": [200,400,600,800,1000,1200,1400,1600,1800], "labels": false, "title": null}}
     }},
    {"data": {"name": "tc"}, "mark": {"type": "text", "fontSize": 9, "color": "#1a1a1a", "align": "center", "baseline": "middle"},
     "encoding": {
      "x": {"field": "x", "type": "quantitative", "axis": null},
      "y": {"field": "z", "type": "quantitative", "axis": null},
      "text": {"field": "t"}
     }},
    {"data": {"values": [{"t": "c)", "x": 163.0, "z": 1891}]}, "mark": {"type": "text", "fontSize": 18, "fontWeight": "bold", "color": "#111", "align": "center", "baseline": "middle"},
     "encoding": {"x": {"field": "x", "type": "quantitative", "axis": null}, "y": {"field": "z", "type": "quantitative", "axis": null}, "text": {"field": "t"}}},
    {"data": {"values": [{"t": "TKE (m2 s-2)", "x": 246.6, "z": 1891}]}, "mark": {"type": "text", "fontSize": 10, "fontWeight": "bold", "color": "#111", "align": "center", "baseline": "middle"},
     "encoding": {"x": {"field": "x", "type": "quantitative", "axis": null}, "y": {"field": "z", "type": "quantitative", "axis": null}, "text": {"field": "t"}}},
    {"data": {"values": [{"t": "1700 LST", "x": 244.5, "z": 1695}]}, "mark": {"type": "text", "fontSize": 10, "color": "#111", "align": "center", "baseline": "middle"},
     "encoding": {"x": {"field": "x", "type": "quantitative", "axis": null}, "y": {"field": "z", "type": "quantitative", "axis": null}, "text": {"field": "t"}}},
    {"data": {"values": [{"t": "sea", "x": 162.0, "z": -155}, {"t": "area (I)", "x": 184.4, "z": -155}, {"t": "land", "x": 207.5, "z": -155}, {"t": "area (II)", "x": 239.6, "z": -155}]},
     "mark": {"type": "text", "fontSize": 13, "color": "#111", "align": "center", "baseline": "middle"},
     "encoding": {"x": {"field": "x", "type": "quantitative", "axis": null}, "y": {"field": "z", "type": "quantitative", "axis": null}, "text": {"field": "t"}}},
    {"data": {"values": [{"x": 166.5, "z": -32, "z2": -177}, {"x": 229.9, "z": -32, "z2": -177}]},
     "mark": {"type": "rule", "color": "#000", "strokeWidth": 1.5},
     "encoding": {"x": {"field": "x", "type": "quantitative", "axis": null}, "y": {"field": "z", "type": "quantitative", "axis": null}, "y2": {"field": "z2"}}}
   ]
  },
  {
   "width": 562, "height": 500,
   "view": {"stroke": null},
   "data": {"name": "cap"},
   "encoding": {
    "x": {"datum": 0, "type": "quantitative", "scale": {"domain": [0, 562], "nice": false, "zero": false}, "axis": null},
    "y": {"field": "line", "type": "quantitative", "scale": {"domain": [-10.55, 5.32], "reverse": true, "nice": false, "zero": false}, "axis": null},
    "text": {"field": "t"}
   },
   "layer": [
    {"transform": [{"filter": "datum.part === 'body'"}], "mark": {"type": "text", "font": "Liberation Serif", "fontSize": 23.5, "align": "left", "baseline": "middle", "color": "#111", "dx": -70}},
    {"transform": [{"filter": "datum.part === 'bold'"}], "mark": {"type": "text", "font": "Liberation Serif", "fontSize": 23.5, "fontWeight": "bold", "align": "left", "baseline": "middle", "color": "#111", "dx": -70}},
    {"transform": [{"filter": "datum.part === 'rest'"}], "mark": {"type": "text", "font": "Liberation Serif", "fontSize": 23.5, "align": "left", "baseline": "middle", "color": "#111", "dx": 34}}
   ]
  }
]
}
